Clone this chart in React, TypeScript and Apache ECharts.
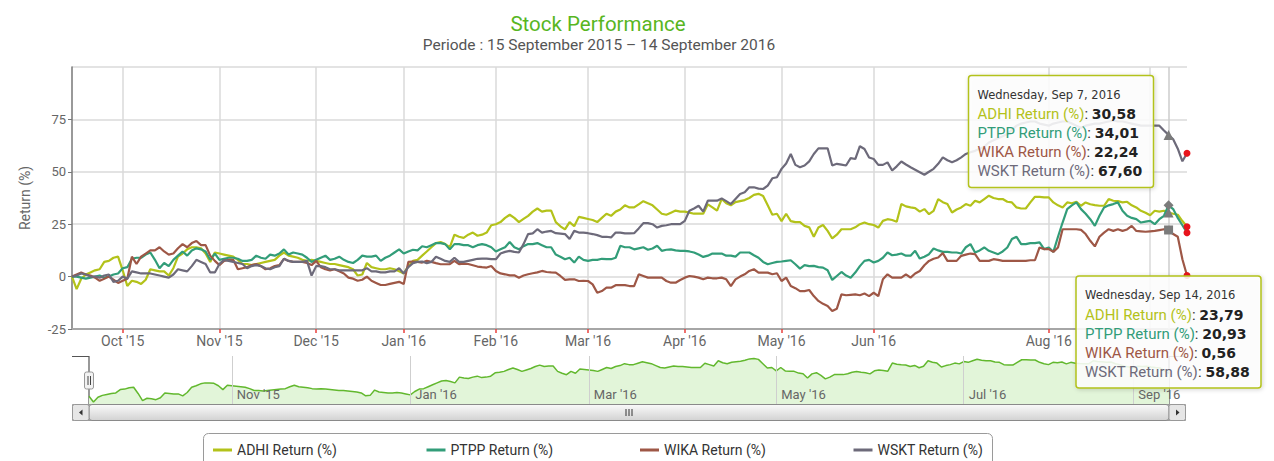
import React, { useEffect, useRef } from 'react';
import * as echarts from 'echarts';

// Trading days (IDX) per month: [year, month, days]
const TRADING_DAYS: [number, number, number[]][] = [
  [2015, 9, [15, 16, 17, 18, 21, 22, 23, 25, 28, 29, 30]],
  [2015, 10, [1, 2, 5, 6, 7, 8, 9, 12, 13, 15, 16, 19, 20, 21, 22, 23, 26, 27, 28, 29, 30]],
  [2015, 11, [2, 3, 4, 5, 6, 9, 10, 11, 12, 13, 16, 17, 18, 19, 20, 23, 24, 25, 26, 27, 30]],
  [2015, 12, [1, 2, 3, 4, 7, 8, 10, 11, 14, 15, 16, 17, 18, 21, 22, 23, 28, 29, 30]],
  [2016, 1, [4, 5, 6, 7, 8, 11, 12, 13, 14, 15, 18, 19, 20, 21, 22, 25, 26, 27, 28, 29]],
  [2016, 2, [1, 2, 3, 4, 5, 9, 10, 11, 12, 15, 16, 17, 18, 19, 22, 23, 24, 25, 26, 29]],
  [2016, 3, [1, 2, 3, 4, 7, 8, 10, 11, 14, 15, 16, 17, 18, 21, 22, 23, 24, 28, 29, 30, 31]],
  [2016, 4, [1, 4, 5, 6, 7, 8, 11, 12, 13, 14, 15, 18, 19, 20, 21, 22, 25, 26, 27, 28, 29]],
  [2016, 5, [2, 3, 4, 9, 10, 11, 12, 13, 16, 17, 18, 19, 20, 23, 24, 25, 26, 27, 30, 31]],
  [2016, 6, [1, 2, 3, 6, 7, 8, 9, 10, 13, 14, 15, 16, 17, 20, 21, 22, 23, 24, 27, 28, 29, 30]],
  [2016, 7, [1, 11, 12, 13, 14, 15, 18, 19, 20, 21, 22, 25, 26, 27, 28, 29]],
  [2016, 8, [1, 2, 3, 4, 5, 8, 9, 10, 11, 12, 15, 16, 18, 19, 22, 23, 24, 25, 26, 29, 30, 31]],
  [2016, 9, [1, 2, 5, 6, 7, 8, 9, 13, 14]],
];

const MONTHS = ['Jan', 'Feb', 'Mar', 'Apr', 'May', 'Jun', 'Jul', 'Aug', 'Sep', 'Oct', 'Nov', 'Dec'];
const WEEKDAYS = ['Sunday', 'Monday', 'Tuesday', 'Wednesday', 'Thursday', 'Friday', 'Saturday'];

const SERIES_NAMES = ['ADHI Return (%)', 'PTPP Return (%)', 'WIKA Return (%)', 'WSKT Return (%)'];
const COLORS = ['#b3c21a', '#329d79', '#9e5746', '#6d6a7a'];
const HOVER_SYMBOLS = ['triangle', 'diamond', 'rect', 'triangle'];

const ADHI = [
  0, -6, -1, 1, 2, 3, 3.5, 7, 7.5, 9,
  9.5, 3, -4.5, -2, -2.5, -3.5, -1.5, 3.5, 3, 2.5,
  2.5, 0.5, 4, 9.5, 11, 13, 14, 14, 13.5, 11,
  7, 11.5, 11, 10.5, 10, 9.5, 8, 6, 6, 5.5,
  6, 6.5, 7, 7.5, 8, 10, 11.5, 10, 9.5, 9,
  8, 7.5, 8, 7.5, 7, 6.5, 6, 6, 5.5, 5,
  4.5, 3.5, 0.5, 1, 6.5, 4.5, 4, 3.5, 3.5, 4,
  3.5, 2.5, 1.5, 5, 7.5, 8, 10, 12, 14, 16,
  16.5, 15.5, 14, 20, 19, 18.5, 20, 21, 19.5, 20,
  21, 24.5, 25, 26, 28, 29.5, 28, 26, 27.5, 29,
  31, 32.5, 31, 31.5, 31.5, 26, 24, 22.5, 26, 24,
  28.5, 28, 27.5, 27, 26, 28, 30, 29, 31, 32,
  34, 33, 33, 34.5, 36, 35, 34, 32, 30, 29.5,
  30.5, 31.5, 31, 31, 30.5, 30, 30, 30, 34.5, 33,
  31.5, 37, 35, 34, 35.5, 36, 36.5, 37.5, 39, 39.5,
  38.5, 34, 29.5, 30, 26.5, 30, 26.5, 26, 26, 24.2,
  23.5, 19, 23.4, 24.6, 21.8, 18.2, 20, 22.6, 22.6, 22.6,
  23.5, 25, 25.8, 25, 24.6, 23.4, 26.6, 27.4, 27, 26.2,
  34.6, 33.5, 33, 32.7, 31, 32.2, 29.8, 31.4, 37, 35.5,
  34.6, 30.6, 32, 33, 34.6, 33.8, 36.2, 35.4, 37, 38.6,
  37.5, 37, 37, 35.7, 35.4, 33, 32.5, 32.5, 35.4, 38.1,
  38, 37.8, 37.8, 35.4, 34, 33, 35.4, 35, 35.7, 33.8,
  35.4, 34.5, 34.1, 33.8, 33.8, 37, 36.2, 36, 35.4, 35.7,
  34, 33, 31.4, 30.5, 29.3, 31.4, 31, 31.4, 30.58, 30,
  29.5, 26.5, 23.79,
];

const PTPP = [
  0, 0, -0.5, -1, -0.5, 0, 0.5, -0.5, 0, 1,
  1.5, 4, 4.5, 8.5, 9, 9, 10.5, 11.5, 8, 4,
  6.5, 5, 8, 10, 12, 10, 12.5, 13.5, 13, 12,
  8, 11, 8, 8.5, 9, 9, 8.5, 7.5, 7.5, 8,
  10, 9, 8.5, 10.5, 10, 11, 13, 10.5, 11.5, 11,
  10.5, 9, 7, 8, 9, 10, 8, 8.5, 9.5, 8,
  7, 6.5, 8, 10, 9.5, 9.5, 10, 7.5, 9, 10,
  11.5, 13, 11, 12, 12.8, 12.5, 14.5, 14, 15, 16,
  16, 15.5, 13, 15.5, 15.5, 15, 15, 14, 15, 15.5,
  15, 14, 12, 13, 14, 16.5, 14, 13, 14.5, 15.5,
  15.5, 16, 15, 14, 14, 10.5, 9.5, 8.3, 9, 6.7,
  9.5, 8, 7.5, 8, 8, 8.5, 8.3, 8.3, 9, 14.7,
  14, 14, 13, 13.5, 14, 12.8, 13.4, 14.7, 12.3, 12.8,
  13, 12.5, 12.3, 12.3, 12, 11.5, 10.5, 9.4, 10, 11,
  11, 11, 10, 10, 9.5, 11.5, 11.5, 11.5, 10.2, 9,
  7, 5.9, 6.5, 7, 7.2, 7.5, 7.8, 5.9, 3.8, 5.5,
  5, 5.1, 4.5, 4.3, 3, -1.6, 0.3, 2.2, 0.5, -0.5,
  1.9, 5, 7.5, 8, 6.7, 7.5, 9, 11.5, 10.2, 10.5,
  11, 10, 10, 12.3, 8.6, 9.5, 10.7, 13.4, 12.5, 11.8,
  11.8, 11.5, 11.5, 11, 14, 15.5, 11.5, 12.5, 13.9, 12.3,
  11.5, 10.7, 12, 13.9, 17.9, 19, 15.5, 15.5, 16, 16,
  16.3, 13.1, 13.9, 11.8, 19, 25.8, 32.2, 34, 35.4, 32.2,
  30, 27.4, 24.2, 29, 33, 34, 34.6, 35.4, 31.4, 29,
  28, 27.4, 25.8, 26.2, 26.6, 25, 27.4, 29, 34.01, 32.2,
  28, 24.5, 20.93,
];

const WIKA = [
  0, 1, 2, 1, 0.5, -0.5, -2, -1, 0, -1.5,
  -3, -2, -1, 9.5, 6, 9.5, 11, 12.5, 12.5, 14,
  12, 10.5, 11, 13.5, 15.5, 14, 16, 17, 15, 15,
  10, 7.5, 5.5, 7.5, 8, 8, 3.5, 4, 4.5, 5.5,
  6, 5, 3.5, 4, 5, 5.5, 8.5, 7.5, 7, 7,
  7, 6.5, 5.5, 7.5, 4.5, 3.5, 3, 3.5, 2.5, 1.5,
  -0.5, -1, -2, -1.5, 0, -2, -3, -4, -4, -3.5,
  -3, -2.5, -3.5, 7, 7.2, 7, 6.7, 7.5, 7, 6.4,
  5.9, 5.9, 5.9, 7.5, 5.9, 6.2, 6, 5.4, 4.8, 4.5,
  4.3, 5.1, 2.7, 1.5, 1.1, 0.6, 0.6, -0.5, 0.5, 1.1,
  1.6, 2, 2.7, 2.2, 2, 1.9, 0.3, -1.6, -1.3, -1.3,
  -2.1, -2, -2.1, -3.7, -7.7, -6.9, -5.3, -5.3, -4.1, -4.1,
  -4.1, -4.5, -4.5, 1.1, 0.3, -0.5, -0.5, -0.5, -0.5, -2.1,
  -2.9, -2.9, -1.6, -0.5, 0.3, 0, -0.5, -1.3, -0.5, -0.8,
  -0.8, -0.5, -1.3, -4.5, -1.3, 0, 1.1, 2.7, 3.5, 1.9,
  1.9, 1.9, 1.1, 1.6, -2.1, -0.5, -4.5, -5.5, -6.9, -6.9,
  -6.4, -9.3, -11.6, -13, -14, -16.4, -15.3, -8.5, -8.9, -8.7,
  -8.5, -8.9, -8.1, -9.3, -7.7, -9.3, -1.3, 1.1, -0.5, -0.5,
  -0.5, 1.1, -0.5, 1.5, 2.7, 5.4, 7.5, 8.5, 9.1, 11.2,
  7.5, 7.5, 7.5, 9.9, 10.5, 11, 10.7, 7.5, 7.5, 7.5,
  8.3, 8, 7.5, 7.5, 7.5, 7.5, 7.5, 7.5, 7.8, 7.8,
  13.9, 13.1, 13.1, 11.8, 13.9, 22.6, 22.6, 22.6, 22.6, 22.3,
  20.3, 17.1, 14.4, 19, 21, 22.6, 21.8, 22.6, 21.8, 22.5,
  24.2, 21.8, 21.6, 21.4, 21.6, 21.8, 22.2, 22.6, 22.24, 20.3,
  19, 8.3, 0.56,
];

const WSKT = [
  0, 0.5, 1.5, 1, 0, 0, -0.5, 0.5, 1, -2.5,
  -2, 0, -1, 2.5, 2, 1.5, 1.5, 1.5, 1, 0.5,
  0, -0.5, 1, 3.5, 3, 2.5, 5, 8, 7, 6,
  2, 2, 6, 8, 7.5, 7, 6.5, 6, 4, 5,
  5.5, 5, 4, 3.5, 4.5, 5, 8.5, 7.5, 7, 7,
  7, 7.5, 0.5, 5, 5, 4.5, 3.5, 3.5, 3, 3,
  3, 3, 3, 3, 4, 2.5, 2.5, 2, 2, 2.5,
  2.5, 4, 1.5, 4.5, 6.4, 7, 7.2, 6.4, 7, 9.5,
  8.5, 7.5, 7, 9, 7, 7, 7.5, 8, 8.5, 8.6,
  8.6, 8.3, 8.3, 11, 11.8, 12.3, 11.8, 11.5, 15.5, 20.3,
  20.6, 22.6, 21, 21.5, 21.8, 20.7, 20.5, 20.3, 17.9, 21.8,
  21, 21, 20.7, 20.3, 19.8, 19, 19, 18.7, 21, 21,
  20.6, 20.6, 20.7, 23, 25.5, 25.5, 25, 23.4, 24.2, 24.5,
  25, 25, 25, 26.6, 31.4, 32.5, 33.8, 31, 36.2, 36.2,
  36.2, 37.3, 36, 34.6, 37, 39.4, 40.2, 42.6, 42.6, 42,
  41.8, 43.4, 46.9, 47.4, 51.4, 54, 58.5, 53.3, 52.2, 53,
  55, 58.5, 61.2, 61.2, 61.2, 53, 53.8, 53.4, 53, 56.5,
  56.1, 62.2, 60.9, 56.8, 56.1, 53.3, 53.3, 54.5, 50.6, 52.6,
  54.9, 53.5, 52.2, 51, 49.8, 48.6, 50, 51.4, 53.8, 56.9,
  55.5, 54.5, 55.5, 56.9, 58.5, 59.3, 60, 61, 62, 64,
  65, 66, 67, 68, 70, 72, 73, 73.5, 74, 74,
  73, 72.5, 72, 73, 73.5, 74, 74, 73, 72, 71,
  72, 72.5, 73, 73, 73.5, 74, 74.5, 74, 74, 73.5,
  73, 72.5, 72, 72, 72, 72, 72, 69.7, 67.6, 65.5,
  61, 55, 58.88,
];

const SERIES_VALUES = [ADHI, PTPP, WIKA, WSKT];
const HOVER_INDEX = 238; // Wednesday, Sep 7, 2016
const LAST_INDEX = 242; // Wednesday, Sep 14, 2016

const Y_MIN = -25;
const Y_MAX = 100;
const Y_STEP = 25;
const NAV_MIN = -8;
const NAV_MAX = 42;

const TITLE = 'Stock Performance';
const SUBTITLE = 'Periode : 15 September 2015 \u2013 14 September 2016';

const DATES: string[] = TRADING_DAYS.flatMap(([y, m, days]) =>
  days.map((d) => `${y}-${String(m).padStart(2, '0')}-${String(d).padStart(2, '0')}`)
);

const isMonthStart = (i: number) => i > 0 && DATES[i].slice(0, 7) !== DATES[i - 1].slice(0, 7);
const MAIN_TICKS = new Set<number>();
const MAIN_LABELS = new Set<number>();
const NAV_TICKS = new Set<number>();
DATES.forEach((d, i) => {
  if (!isMonthStart(i)) return;
  const y = Number(d.slice(0, 4));
  const m = Number(d.slice(5, 7));
  if (m !== 7) MAIN_TICKS.add(i);
  // Sep '16 label sits under the Sep 14 tooltip in the reference
  if (m !== 7 && !(y === 2016 && m === 9)) MAIN_LABELS.add(i);
  if (m % 2 === 1) NAV_TICKS.add(i);
});

const fmtMonth = (value: string) => {
  const [y, m] = value.split('-');
  return `${MONTHS[Number(m) - 1]} '${y.slice(2)}`;
};
const fmtVal = (v: number) => v.toFixed(2).replace('.', ',');

function tooltipGroup(idx: number, x: number, y: number, w: number, h: number) {
  const [yy, mm, dd] = DATES[idx].split('-').map(Number);
  const header = `${WEEKDAYS[new Date(yy, mm - 1, dd).getDay()]}, ${MONTHS[mm - 1]} ${dd}, ${yy}`;
  const children: any[] = [
    {
      type: 'rect',
      z: 100,
      shape: { x: 0, y: 0, width: w, height: h, r: 3 },
      style: {
        fill: 'rgba(255,255,255,0.86)',
        stroke: COLORS[0],
        lineWidth: 1.5,
        shadowBlur: 4,
        shadowColor: 'rgba(0,0,0,0.18)',
        shadowOffsetX: 1,
        shadowOffsetY: 1,
      },
    },
    {
      type: 'text',
      z: 101,
      x: 9,
      y: 19,
      style: {
        text: header,
        fill: '#333',
        fontSize: 11.5,
        fontFamily: 'DejaVu Sans',
        verticalAlign: 'middle',
        textVerticalAlign: 'middle',
      },
    },
  ];
  SERIES_NAMES.forEach((name, k) => {
    children.push({
      type: 'text',
      z: 101,
      x: 9,
      y: 38.5 + 19 * k,
      style: {
        text: `{n|${name}}{c|: }{v|${fmtVal(SERIES_VALUES[k][idx])}}`,
        verticalAlign: 'middle',
        textVerticalAlign: 'middle',
        rich: {
          n: { fill: COLORS[k], textFill: COLORS[k], fontSize: 15, fontFamily: 'Roboto' },
          c: { fill: '#333', textFill: '#333', fontSize: 15, fontFamily: 'Roboto' },
          v: { fill: '#222', textFill: '#222', fontSize: 14, fontWeight: 'bold', fontFamily: 'DejaVu Sans' },
        },
      },
    });
  });
  return { type: 'group', x, y, children };
}

export default function App() {
  const ref = useRef<HTMLDivElement>(null);

  useEffect(() => {
    document.body.style.margin = '0';
    if (!ref.current) return;
    const chart = echarts.init(ref.current, undefined, { renderer: 'svg' });

    const mainSeries = SERIES_NAMES.map((name, k) => ({
      name,
      type: 'line',
      xAxisIndex: 0,
      yAxisIndex: 0,
      data: SERIES_VALUES[k],
      showSymbol: false,
      symbol: 'none',
      silent: true,
      lineStyle: { color: COLORS[k], width: 2.2 },
      itemStyle: { color: COLORS[k] },
      markLine:
        k === 0
          ? {
              silent: true,
              symbol: ['none', 'none'],
              label: { show: false },
              lineStyle: { color: '#cccccc', width: 1.5, type: 'solid' },
              data: [{ xAxis: DATES[HOVER_INDEX] }],
            }
          : undefined,
      markPoint: {
        silent: true,
        label: { show: false },
        data: [
          {
            coord: [DATES[HOVER_INDEX], SERIES_VALUES[k][HOVER_INDEX]],
            symbol: HOVER_SYMBOLS[k],
            symbolSize: k === 2 ? 9 : 10,
            itemStyle: { color: '#7b7b7b' },
          },
          {
            coord: [DATES[LAST_INDEX], SERIES_VALUES[k][LAST_INDEX]],
            symbol: 'circle',
            symbolSize: 7,
            itemStyle: { color: '#e8141c' },
          },
        ],
      },
    }));

    const graphics: any[] = [
      {
        type: 'text',
        x: 598,
        y: 24,
        style: {
          text: TITLE,
          fill: '#58b61f',
          fontSize: 20.5,
          fontFamily: 'Roboto',
          textAlign: 'center',
          align: 'center',
          textVerticalAlign: 'middle',
          verticalAlign: 'middle',
        },
      },
      {
        type: 'text',
        x: 599,
        y: 45,
        style: {
          text: SUBTITLE,
          fill: '#555',
          fontSize: 15.5,
          fontFamily: 'Roboto',
          textAlign: 'center',
          align: 'center',
          textVerticalAlign: 'middle',
          verticalAlign: 'middle',
        },
      },
      // legend box
      {
        type: 'rect',
        shape: { x: 203.5, y: 433.5, width: 789, height: 40, r: 5 },
        style: { fill: 'none', stroke: '#9a9a9a', lineWidth: 1 },
      },
      // navigator outline
      {
        type: 'polyline',
        shape: { points: [[72, 356.5], [89, 356.5], [89, 404]] },
        style: { stroke: '#555', lineWidth: 1.2, fill: 'none' },
      },
      {
        type: 'polyline',
        shape: { points: [[1169, 404], [1169, 356.5], [1186, 356.5]] },
        style: { stroke: '#555', lineWidth: 1.2, fill: 'none' },
      },
      // left handle
      {
        type: 'rect',
        shape: { x: 84.5, y: 372, width: 9, height: 17, r: 2 },
        style: { fill: '#f2f2f2', stroke: '#999', lineWidth: 1 },
      },
      { type: 'line', shape: { x1: 88, y1: 376, x2: 88, y2: 385 }, style: { stroke: '#444', lineWidth: 1 } },
      { type: 'line', shape: { x1: 90.5, y1: 376, x2: 90.5, y2: 385 }, style: { stroke: '#444', lineWidth: 1 } },
      // scrollbar track
      {
        type: 'rect',
        shape: { x: 72.5, y: 404.5, width: 1113, height: 16 },
        style: { fill: '#f2f2f2', stroke: '#999', lineWidth: 1 },
      },
      // scrollbar thumb
      {
        type: 'rect',
        shape: { x: 89, y: 404.5, width: 1080, height: 16, r: 3 },
        style: {
          fill: new echarts.graphic.LinearGradient(0, 0, 0, 1, [
            { offset: 0, color: '#fafafa' },
            { offset: 1, color: '#d2d2d2' },
          ]),
          stroke: '#8a8a8a',
          lineWidth: 1,
        },
      },
      { type: 'line', shape: { x1: 626, y1: 409, x2: 626, y2: 416 }, style: { stroke: '#333', lineWidth: 1 } },
      { type: 'line', shape: { x1: 629, y1: 409, x2: 629, y2: 416 }, style: { stroke: '#333', lineWidth: 1 } },
      { type: 'line', shape: { x1: 632, y1: 409, x2: 632, y2: 416 }, style: { stroke: '#333', lineWidth: 1 } },
      // scrollbar buttons
      {
        type: 'rect',
        shape: { x: 72.5, y: 404.5, width: 16.5, height: 16, r: 2 },
        style: { fill: '#e6e6e6', stroke: '#999', lineWidth: 1 },
      },
      {
        type: 'polygon',
        shape: { points: [[82.5, 409.5], [82.5, 415.5], [79, 412.5]] },
        style: { fill: '#333' },
      },
      {
        type: 'rect',
        shape: { x: 1169, y: 404.5, width: 16.5, height: 16, r: 2 },
        style: { fill: '#e6e6e6', stroke: '#999', lineWidth: 1 },
      },
      {
        type: 'polygon',
        shape: { points: [[1176, 409.5], [1176, 415.5], [1179.5, 412.5]] },
        style: { fill: '#333' },
      },
      tooltipGroup(HOVER_INDEX, 968.5, 75.5, 185, 112),
      tooltipGroup(LAST_INDEX, 1076, 276, 185, 112),
    ];

    const legends = SERIES_NAMES.map((name, k) => ({
      left: 213 + 213.5 * k,
      top: 443,
      padding: 0,
      itemWidth: 19,
      itemHeight: 3,
      icon: 'rect',
      selectedMode: false,
      data: [name],
      textStyle: { color: '#333', fontSize: 14, fontFamily: 'Roboto' },
    }));

    const option: any = {
      animation: false,
      tooltip: { show: false },
      color: COLORS,
      textStyle: { fontFamily: 'Roboto' },
      grid: [
        { left: 72, top: 67, width: 1115, height: 262 },
        { left: 89, top: 356, width: 1080, height: 48 },
      ],
      legend: legends,
      xAxis: [
        {
          type: 'category',
          gridIndex: 0,
          data: DATES,
          boundaryGap: false,
          axisLine: { show: true, onZero: false, lineStyle: { color: '#a6a6a6', width: 2 } },
          axisTick: {
            show: true,
            interval: (i: number) => MAIN_TICKS.has(i),
            length: 4,
            lineStyle: { color: '#e8413c', width: 1.5 },
          },
          axisLabel: {
            interval: (i: number) => MAIN_LABELS.has(i),
            formatter: fmtMonth,
            color: '#666',
            fontSize: 14,
            fontFamily: 'Roboto',
            margin: 5,
          },
          splitLine: {
            show: true,
            interval: (i: number) => MAIN_TICKS.has(i),
            lineStyle: { color: '#dadada', width: 1.5 },
          },
        },
        {
          type: 'category',
          gridIndex: 1,
          z: 5,
          data: DATES,
          boundaryGap: false,
          axisLine: { show: false, onZero: false },
          axisTick: { show: false },
          axisLabel: {
            inside: true,
            interval: (i: number) => NAV_TICKS.has(i),
            formatter: fmtMonth,
            align: 'left',
            padding: [0, 0, 0, 5],
            color: '#666',
            fontSize: 13,
            fontFamily: 'Roboto',
            margin: 3,
          },
          splitLine: {
            show: true,
            interval: (i: number) => NAV_TICKS.has(i),
            lineStyle: { color: '#cfcfcf', width: 1 },
          },
        },
      ],
      yAxis: [
        {
          type: 'value',
          gridIndex: 0,
          min: Y_MIN,
          max: Y_MAX,
          interval: Y_STEP,
          name: 'Return (%)',
          nameLocation: 'middle',
          nameGap: 40,
          nameRotate: 90,
          nameTextStyle: { color: '#666', fontSize: 14, fontFamily: 'Roboto' },
          axisLine: { show: true, lineStyle: { color: '#777', width: 1.5 } },
          axisTick: { show: true, length: 4, lineStyle: { color: '#777' } },
          axisLabel: { color: '#666', fontSize: 13, fontFamily: 'Roboto', showMaxLabel: false, margin: 6 },
          splitLine: { show: true, lineStyle: { color: '#dadada', width: 1.5 } },
        },
        {
          type: 'value',
          gridIndex: 1,
          min: NAV_MIN,
          max: NAV_MAX,
          show: false,
          splitLine: { show: false },
        },
      ],
      series: [
        {
          name: 'navigator',
          type: 'line',
          xAxisIndex: 1,
          yAxisIndex: 1,
          data: ADHI,
          showSymbol: false,
          symbol: 'none',
          silent: true,
          z: 1,
          lineStyle: { color: '#62b82e', width: 1.5 },
          itemStyle: { color: '#62b82e' },
          areaStyle: { color: '#e2f5d9', opacity: 1, origin: 'start' },
        },
        ...mainSeries,
      ],
      graphic: graphics,
    };

    chart.setOption(option);
    return () => chart.dispose();
  }, []);

  return <div ref={ref} style={{ width: 1274, height: 461 }} />;
}
